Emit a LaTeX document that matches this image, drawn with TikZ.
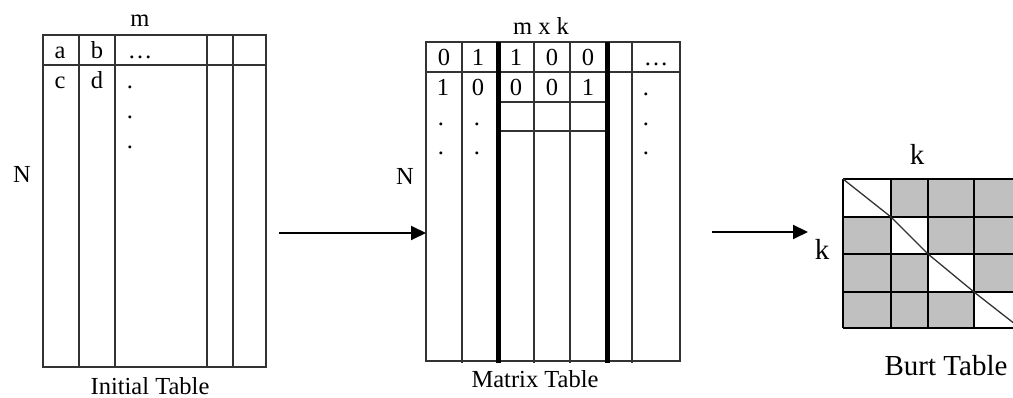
\documentclass[tikz,border=0pt]{standalone}
\usepackage{fontspec}
\setmainfont{Liberation Serif}
\usetikzlibrary{arrows.meta}
\definecolor{burtgray}{HTML}{C0C0C0}
\definecolor{ln}{HTML}{333333}
\tikzset{
  thin grid/.style={draw=ln, line width=1.4pt},
  thick sep/.style={draw=black, line width=5pt},
  txt/.style={inner sep=0pt, anchor=base, font=\fontsize{24.5}{28}\selectfont},
  bigtxt/.style={inner sep=0pt, anchor=base, font=\fontsize{29}{33}\selectfont},
  flow/.style={draw=black, line width=2pt, -{Triangle[length=15pt,width=14pt]}},
  frame/.style={draw=ln, line width=1.4pt, inner sep=0pt, outer sep=0pt}
}
\begin{document}
\begin{tikzpicture}[x=1pt,y=-1pt]
\clip (0,0) rectangle (1013,398);
\fill[white] (0,0) rectangle (1013,398);

% ---------- Initial table ----------
\node[frame, minimum width=223pt, minimum height=332pt] (it) at (154.5,201) {};
\draw[thin grid] (43,65) -- (266,65);
\foreach \x in {79,115,207,233} \draw[thin grid] (\x,35) -- (\x,367);
\node[txt] (itm) at (140,27) {m};
\node[txt] (ita) at (60,59) {a};
\node[txt] (itb) at (97,59) {b};
\node[txt] (itdots) at (140,59) {\dots};
\node[txt] (itc) at (60,89) {c};
\node[txt] (itd) at (97,89) {d};
\node[txt] (itv1) at (130,89) {.};
\node[txt] (itv2) at (130,119) {.};
\node[txt] (itv3) at (130,149) {.};
\node[txt] (itN) at (22,183) {N};
\node[txt] (itcap) at (150,394) {Initial Table};

% ---------- Matrix table ----------
\node[frame, minimum width=254pt, minimum height=319pt] (mt) at (553,201.5) {};
\draw[thin grid] (426,72) -- (680,72);
\draw[thin grid] (498,102) -- (607,102);
\draw[thin grid] (498,131) -- (607,131);
\foreach \x in {462,534,570,632} \draw[thin grid] (\x,42) -- (\x,363);
\draw[thick sep] (498,42) -- (498,363);
\draw[thick sep] (607,42) -- (607,363);
\node[txt] (mtmk) at (541,35) {m x k};
\node[txt] (r1a) at (444,66) {0};
\node[txt] (r1b) at (478,66) {1};
\node[txt] (r1c) at (516,66) {1};
\node[txt] (r1d) at (552,66) {0};
\node[txt] (r1e) at (588,66) {0};
\node[txt] (r1f) at (656,66) {\dots};
\node[txt] (r2a) at (443,96) {1};
\node[txt] (r2b) at (478,96) {0};
\node[txt] (r2c) at (516,96) {0};
\node[txt] (r2d) at (552,96) {0};
\node[txt] (r2e) at (588,96) {1};
\node[txt] (mv1) at (441,126) {.};
\node[txt] (mv2) at (441,155) {.};
\node[txt] (mv3) at (477,126) {.};
\node[txt] (mv4) at (477,155) {.};
\node[txt] (mv5) at (646,96) {.};
\node[txt] (mv6) at (646,126) {.};
\node[txt] (mv7) at (646,155) {.};
\node[txt] (mtN) at (405,185) {N};
\node[txt] (mtcap) at (535,387) {Matrix Table};

% ---------- Burt table ----------
\fill[burtgray] (843,179) rectangle (1020,328);
\fill[white] (843,179) rectangle (891,217);
\fill[white] (891,217) rectangle (928,254);
\fill[white] (928,254) rectangle (974,292);
\fill[white] (974,292) rectangle (1020,328);
\foreach \y in {179,217,254,292,328} \draw[draw=black, line width=1.6pt] (843,\y) -- (1020,\y);
\foreach \x in {843,891,928,974} \draw[draw=black, line width=1.6pt] (\x,179) -- (\x,328);
\draw[draw=ln, line width=1.3pt] (843,179) -- (891,217) -- (928,254) -- (974,292) -- (1020,328);
\coordinate (bt) at (843,254);
\node[bigtxt] (btk1) at (917,165) {k};
\node[bigtxt] (btk2) at (822,260) {k};
\node[bigtxt] (btcap) at (946,375) {Burt Table};

% ---------- Arrows ----------
\coordinate (a1s) at (279,233);
\coordinate (a2s) at (712,232);
\coordinate (a2e) at (808,232);
\draw[flow] (a1s) -- (a1s -| mt.west);
\draw[flow] (a2s) -- (a2e);
\end{tikzpicture}
\end{document}
